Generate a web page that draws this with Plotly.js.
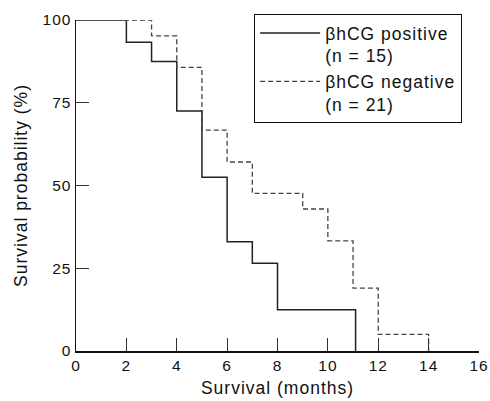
<!DOCTYPE html>
<html>
<head>
<meta charset="utf-8">
<script src="https://cdn.plot.ly/plotly-3.0.1.min.js"></script>
<style>
html, body { margin: 0; padding: 0; background: #fff; }
#chart { width: 490px; height: 401px; }
text { letter-spacing: 1px; }
</style>
</head>
<body>
<div id="chart"></div>
<script>
// Kaplan-Meier survival data
const posMonths = [0, 2, 3, 4, 5, 6, 7, 8, 11.1];
const posSurvival = [100, 93.3, 87.5, 72.5, 52.5, 33, 26.5, 12.5, 0];
const negMonths = [0, 3, 4, 5, 6, 7, 9, 10, 11, 12, 14];
const negSurvival = [100, 95.2, 85.7, 66.7, 57.1, 47.6, 42.9, 33.3, 19, 5, 0];
const seriesNames = ['βhCG positive<br>(n = 15)', 'βhCG negative<br>(n = 21)'];
const xTicks = [0, 2, 4, 6, 8, 10, 12, 14, 16];
const yTicks = [0, 25, 50, 75, 100];

const fontFamily = '"Liberation Sans", Arial, Helvetica, sans-serif';

const traces = [
  {
    x: posMonths, y: posSurvival, name: seriesNames[0],
    type: 'scatter', mode: 'lines',
    line: { shape: 'hv', color: '#222', width: 1.5 }
  },
  {
    x: negMonths, y: negSurvival, name: seriesNames[1],
    type: 'scatter', mode: 'lines',
    line: { shape: 'hv', color: '#444', width: 1.3, dash: '5px,3px' }
  }
];

const axisCommon = {
  showgrid: false, zeroline: false, showline: true,
  linecolor: '#111', linewidth: 1.5,
  ticks: 'inside', ticklen: 13, tickwidth: 1.2, tickcolor: '#333',
  tickfont: { family: fontFamily, size: 15.5, color: '#111' }
};

const layout = {
  width: 490, height: 401,
  margin: { l: 76, r: 11, t: 20, b: 50 },
  paper_bgcolor: '#fff', plot_bgcolor: '#fff',
  font: { family: fontFamily, color: '#111' },
  showlegend: true,
  legend: {
    x: 0.442, y: 1.018, xanchor: 'left', yanchor: 'top',
    bordercolor: '#111', borderwidth: 1, bgcolor: '#fff',
    font: { family: fontFamily, size: 17.5, color: '#111' },
    itemwidth: 60, valign: 'top'
  },
  xaxis: Object.assign({}, axisCommon, {
    range: [0, 16], tickmode: 'array', tickvals: xTicks,
    title: { text: 'Survival (months)', font: { family: fontFamily, size: 17.5, color: '#111' }, standoff: 8 }
  }),
  yaxis: Object.assign({}, axisCommon, {
    range: [0, 100], tickmode: 'array', tickvals: yTicks,
    title: { text: 'Survival probability (%)', font: { family: fontFamily, size: 17.5, color: '#111' }, standoff: 10 }
  })
};

Plotly.newPlot('chart', traces, layout, { staticPlot: true, displayModeBar: false });
</script>
</body>
</html>
